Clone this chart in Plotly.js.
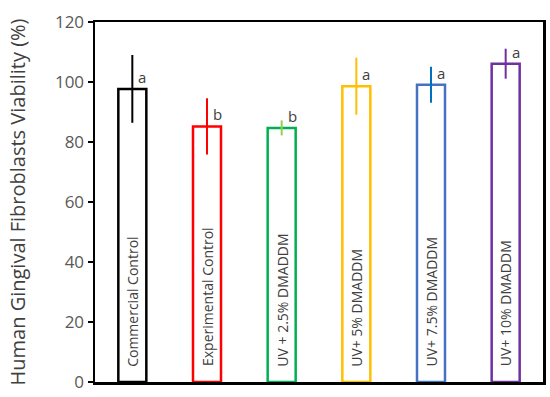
<!DOCTYPE html>
<html>
<head>
<meta charset="utf-8">
<script src="https://cdn.plot.ly/plotly-3.0.1.min.js"></script>
<style>html,body{margin:0;padding:0;background:#fff}#chart{width:550px;height:397px}</style>
</head>
<body>
<div id="chart"></div>
<script>
var categories = ["Commercial Control", "Experimental Control", "UV + 2.5% DMADDM", "UV+ 5% DMADDM", "UV+ 7.5% DMADDM", "UV+ 10% DMADDM"];
var viability = [97.7, 85.2, 84.7, 98.6, 99.1, 106.1];
var errors = [11.3, 9.4, 2.5, 9.5, 6.0, 5.0];
var letters = ["a", "b", "b", "a", "a", "a"];
var barColors = ["#000000", "#FF0000", "#00B050", "#FFC000", "#4472C4", "#7030A0"];
var errColors = ["#000000", "#FF0000", "#92D050", "#FFC000", "#0070C0", "#7030A0"];
var yTicks = [0, 20, 40, 60, 80, 100, 120];

var traces = categories.map(function (c, i) {
  return {
    type: "bar",
    x: [c],
    y: [viability[i]],
    width: 0.375,
    marker: { color: "rgba(255,255,255,0)", line: { color: barColors[i], width: 2.5 } },
    error_y: { type: "data", array: [errors[i]], visible: true, color: errColors[i], thickness: 2, width: 0 },
    hoverinfo: "none",
    showlegend: false
  };
});

var annotations = [];
categories.forEach(function (c, i) {
  annotations.push({
    x: c, y: viability[i], xref: "x", yref: "y",
    text: letters[i], showarrow: false,
    xanchor: "left", yanchor: "bottom", xshift: 4,
    font: { family: "Open Sans, sans-serif", size: 15, color: "#404040" }
  });
  annotations.push({
    x: c, y: 4.5, xref: "x", yref: "y",
    text: c, showarrow: false, textangle: -90,
    xanchor: "center", yanchor: "bottom",
    font: { family: "Open Sans, sans-serif", size: 14, color: "#404040" }
  });
});

var layout = {
  width: 550, height: 397,
  margin: { l: 95, r: 7, t: 22, b: 15 },
  paper_bgcolor: "#fff", plot_bgcolor: "#fff",
  barmode: "overlay",
  xaxis: {
    type: "category", categoryorder: "array", categoryarray: categories,
    showticklabels: false, ticks: "", showgrid: false, zeroline: false,
    showline: true, linecolor: "#000", linewidth: 2.5, mirror: true,
    range: [-0.5, 5.5]
  },
  yaxis: {
    range: [0, 120], tickvals: yTicks, ticktext: yTicks.map(String),
    ticks: "outside", ticklen: 5, tickwidth: 1.5, tickcolor: "#000",
    showgrid: false, zeroline: false,
    showline: true, linecolor: "#000", linewidth: 2.5, mirror: true,
    tickfont: { family: "Open Sans, sans-serif", size: 17, color: "#595959" },
    title: { text: "Human Gingival Fibroblasts Viability (%)", standoff: 24,
      font: { family: "Open Sans, sans-serif", size: 20, color: "#404040" } }
  },
  annotations: annotations
};

Plotly.newPlot("chart", traces, layout, { displayModeBar: false, staticPlot: true });
</script>
</body>
</html>
